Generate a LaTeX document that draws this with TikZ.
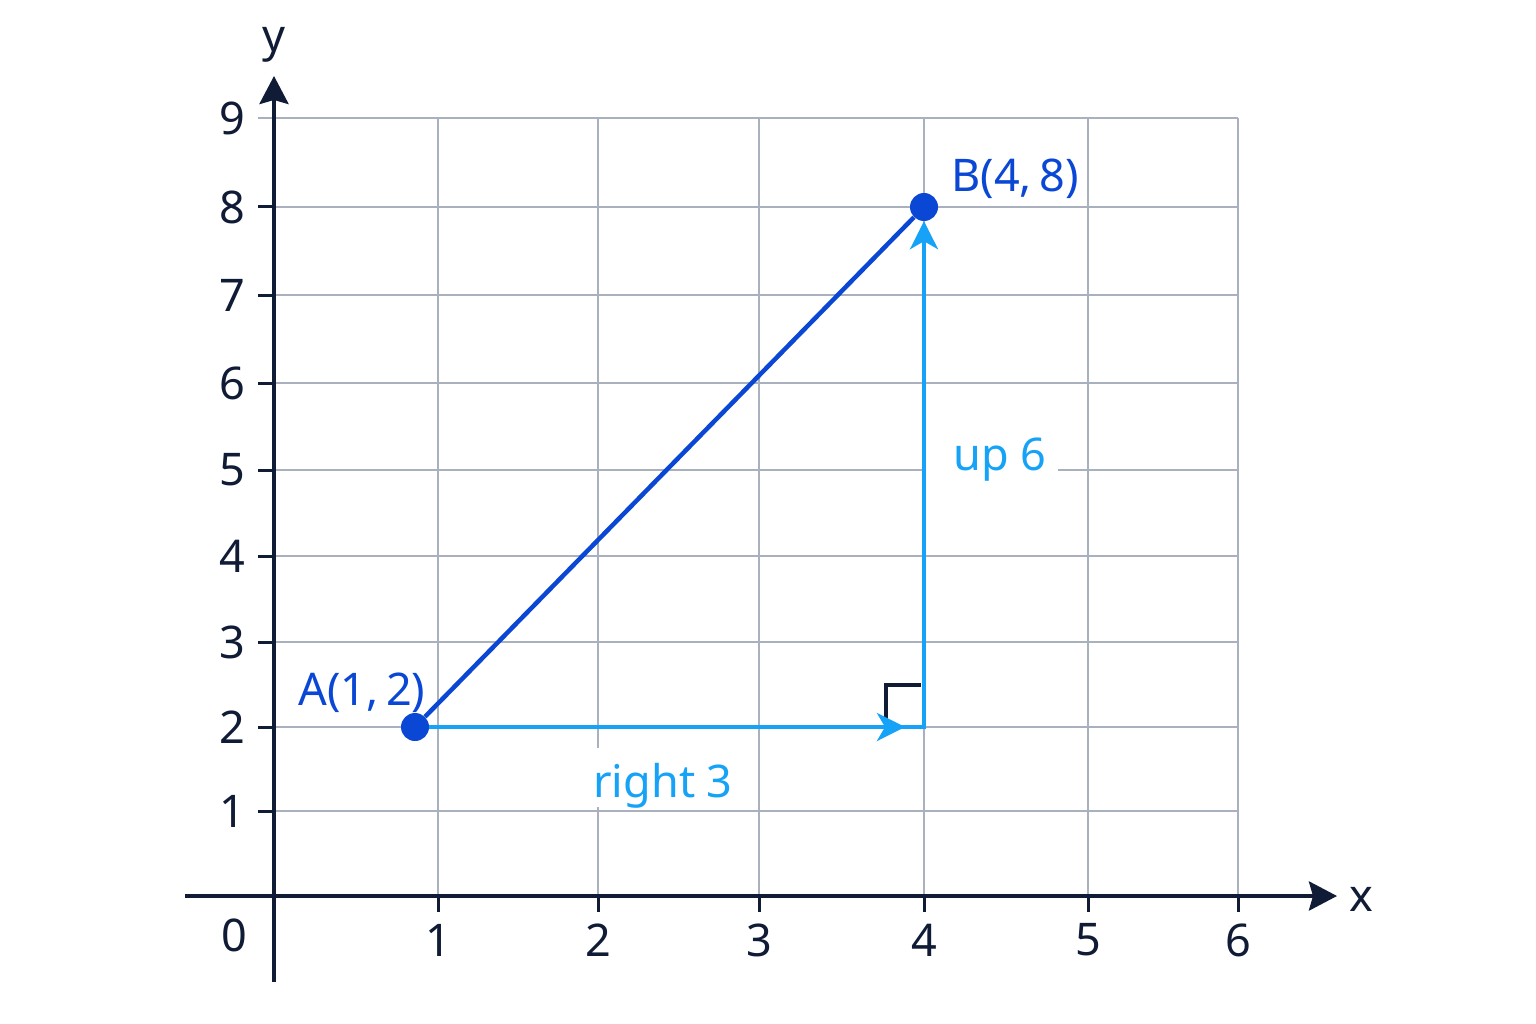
\documentclass[tikz,border=0pt]{standalone}
\usepackage{fontspec}
\setmainfont{Noto Sans}
\usetikzlibrary{arrows.meta,calc}
\definecolor{navy}{HTML}{101B35}
\definecolor{gridc}{HTML}{A9B0BE}
\definecolor{dblue}{HTML}{0A47D4}
\definecolor{lblue}{HTML}{16A3F7}
\begin{document}
\begin{tikzpicture}[x=1pt,y=-1pt,
  gridline/.style={gridc,line width=1.7pt},
  axisline/.style={navy,line width=4pt},
  tickline/.style={navy,line width=3pt},
  numlbl/.style={font=\fontsize{45}{50}\selectfont, text=navy, inner sep=0pt},
  ptlbl/.style={font=\fontsize{45}{50}\selectfont, text=dblue, inner sep=0pt, anchor=base},
  movelbl/.style={font=\fontsize{45}{50}\selectfont, text=lblue, fill=white, inner ysep=0pt, anchor=base},
  dot/.style={circle, fill=dblue, minimum size=28pt, inner sep=0pt},
  diag/.style={dblue, line width=4.5pt},
  bluel/.style={lblue, line width=4pt},
  axtip/.style={-{Stealth[length=28pt,width=29pt,inset=4pt]}},
  bltip/.style={-{Stealth[length=28pt,width=28pt,inset=8pt]}},
]
\useasboundingbox[fill=white] (0,0) rectangle (1536,1024);

% grid
\foreach \y in {118,207,295,383,470,556,642,727,811}
  \draw[gridline] (274,\y) -- (1238,\y);
\foreach \x in {438,598,759,924,1088,1238}
  \draw[gridline] (\x,118) -- (\x,896);
\draw[gridline] (258,118) -- (274,118);

% ticks
\foreach \y in {207,295,383,470,556,642,727,811}
  \draw[tickline] (258,\y) -- (274,\y);
\foreach \x in {438,598,759,924,1088,1238}
  \draw[tickline] (\x,896) -- (\x,912);

% axes
\coordinate (xs) at (185,896);
\coordinate (xe) at (1337,896);
\coordinate (ys) at (274,982);
\coordinate (ye) at (274,76);
\draw[axisline,axtip] (xs) -- (xe);
\draw[axisline,axtip] (ys) -- (ye);
\node[numlbl] (xl) at (1361,899) {x};
\node[numlbl] (yl) at (274,45) {y};

% axis numbers
\foreach \n/\y in {1/811,2/727,3/642,4/556,5/470,6/383,7/295,8/207,9/118}
  \node[numlbl,anchor=east] (yn\n) at (245,\y) {\n};
\foreach \n/\x in {1/438,2/598,3/759,4/924,5/1088,6/1238}
  \node[numlbl] (xn\n) at (\x,940) {\n};
\node[numlbl] (zero) at (234,935) {0};

% movement labels (white background hides grid)
\node[movelbl, text height=49pt, text depth=10pt, inner xsep=4pt] (r3) at (663,797) {right 3};
\node[movelbl, text height=38pt, text depth=14pt, inner xsep=0pt] (u6) at (992,470) {\hspace*{28pt}up 6\hspace*{12pt}};

% points
\node[dot] (A) at (415,727) {};
\node[dot] (B) at (924,207) {};
\coordinate (C) at (924,727);
\coordinate (Ht) at (905,727);
\coordinate (Cup) at (924,690);
\coordinate (m1) at (886,727);
\coordinate (m2) at (886,685);
\coordinate (m3) at (921,685);

% right angle marker
\draw[navy, line width=3.5pt] (m1) -- (m2) -- (m3);

% moves
\draw[bluel] (A) -- (C) -- (Cup);
\draw[bluel,bltip] (A) -- (Ht);
\draw[bluel,bltip] (C) -- (B);

% segment AB
\draw[diag] (A) -- (B);

% point labels
\node[ptlbl] (LA) at (362,705) {A(1,\,2)};
\node[ptlbl] (LB) at (1015,192) {B(4,\,8)};
\end{tikzpicture}
\end{document}
